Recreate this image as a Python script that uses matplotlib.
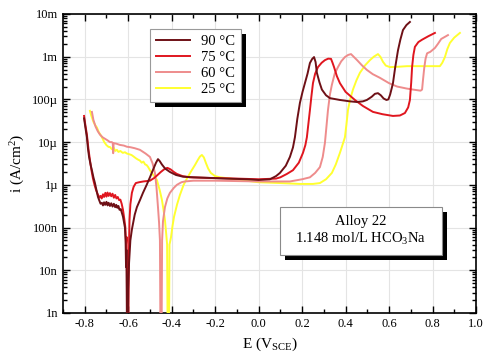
import matplotlib
matplotlib.use("Agg")
import matplotlib.pyplot as plt
import matplotlib.patheffects as pe
from matplotlib.patches import Rectangle
from matplotlib.ticker import MultipleLocator, LogLocator, NullFormatter

plt.rcParams['font.family'] = ['Liberation Serif', 'DejaVu Serif']
plt.rcParams['mathtext.fontset'] = 'custom'
plt.rcParams['mathtext.rm'] = 'Liberation Serif'
plt.rcParams['mathtext.default'] = 'regular'

# polarization curves, potential E (V vs SCE) and current density i (A/cm2)
E_90 = [-0.803, -0.795, -0.790, -0.785, -0.780, -0.772, -0.767, -0.760, -0.753, -0.746,
        -0.739, -0.733, -0.727, -0.721, -0.716, -0.711, -0.706, -0.700, -0.695, -0.690,
        -0.684, -0.678, -0.672, -0.666, -0.660, -0.655, -0.650, -0.645, -0.640, -0.634,
        -0.629, -0.624, -0.619, -0.615, -0.612, -0.610, -0.608, -0.605, -0.602, -0.600,
        -0.596, -0.590, -0.583, -0.570, -0.560, -0.545, -0.532, -0.515, -0.500, -0.485,
        -0.472, -0.463, -0.455, -0.445, -0.430, -0.408, -0.380, -0.348, -0.300, -0.224,
        -0.150, -0.050, 0.000, 0.052, 0.080, 0.098, 0.125, 0.144, 0.158, 0.167,
        0.178, 0.190, 0.202, 0.213, 0.225, 0.236, 0.246, 0.255, 0.262, 0.268,
        0.280, 0.291, 0.310, 0.328, 0.374, 0.420, 0.452, 0.480, 0.498, 0.520,
        0.535, 0.549, 0.562, 0.575, 0.588, 0.597, 0.605, 0.612, 0.618, 0.628,
        0.641, 0.652, 0.664, 0.680, 0.696]
i_90 = [3.6e-5, 1.9e-5, 1.3e-5, 7e-6, 4.5e-6, 2.8e-6, 2.2e-6, 1.5e-6, 1.1e-6, 7.5e-7,
        5.2e-7, 4.3e-7, 3.6e-7, 3.8e-7, 3.3e-7, 3.9e-7, 3.4e-7, 4.0e-7, 3.3e-7, 3.8e-7,
        3.2e-7, 3.7e-7, 3.1e-7, 3.6e-7, 3.0e-7, 3.4e-7, 2.9e-7, 3.2e-7, 2.6e-7, 2.7e-7,
        2.2e-7, 1.8e-7, 1.3e-7, 1.0e-7, 5e-8, 1.2e-8, 3e-8, 1e-10, 1e-10, 3.5e-9,
        1.5e-8, 5e-8, 9e-8, 2e-7, 3e-7, 4.5e-7, 6.5e-7, 1.0e-6, 1.5e-6, 2.3e-6,
        3.3e-6, 4.0e-6, 3.6e-6, 3.0e-6, 2.4e-6, 2.0e-6, 1.7e-6, 1.55e-6, 1.5e-6, 1.45e-6,
        1.4e-6, 1.35e-6, 1.3e-6, 1.35e-6, 1.6e-6, 1.9e-6, 2.8e-6, 4.5e-6, 7.5e-6, 1.3e-5,
        3.5e-5, 8.3e-5, 1.5e-4, 2.4e-4, 4.0e-4, 7.1e-4, 8.8e-4, 9.8e-4, 7.5e-4, 4.2e-4,
        2.5e-4, 1.7e-4, 1.25e-4, 1.07e-4, 9.7e-5, 9.0e-5, 8.7e-5, 9.0e-5, 9.7e-5, 1.15e-4,
        1.35e-4, 1.4e-4, 1.25e-4, 1.05e-4, 9.7e-5, 1.0e-4, 1.3e-4, 1.8e-4, 2.4e-4, 5.5e-4,
        1.4e-3, 2.5e-3, 4.2e-3, 5.5e-3, 6.5e-3]

E_75 = [-0.803, -0.797, -0.790, -0.783, -0.776, -0.769, -0.762, -0.755, -0.748, -0.740,
        -0.733, -0.727, -0.722, -0.716, -0.711, -0.705, -0.700, -0.695, -0.690, -0.684,
        -0.678, -0.672, -0.666, -0.660, -0.654, -0.648, -0.642, -0.636, -0.630, -0.624,
        -0.618, -0.613, -0.610, -0.607, -0.604, -0.600, -0.597, -0.594, -0.590, -0.583,
        -0.575, -0.565, -0.550, -0.530, -0.500, -0.480, -0.465, -0.450, -0.435, -0.420,
        -0.405, -0.390, -0.376, -0.350, -0.316, -0.224, -0.100, 0.000, 0.080, 0.100,
        0.130, 0.158, 0.185, 0.204, 0.215, 0.222, 0.230, 0.236, 0.243, 0.250,
        0.260, 0.273, 0.290, 0.305, 0.320, 0.333, 0.340, 0.347, 0.360, 0.374,
        0.400, 0.443, 0.480, 0.526, 0.570, 0.618, 0.650, 0.673, 0.688, 0.696,
        0.702, 0.706, 0.712, 0.719, 0.735, 0.752, 0.780, 0.811]
i_75 = [4.1e-5, 2.5e-5, 1.5e-5, 7e-6, 3.8e-6, 2.2e-6, 1.4e-6, 1.0e-6, 7.6e-7, 6.0e-7,
        5.0e-7, 5.5e-7, 4.8e-7, 6.0e-7, 5.2e-7, 6.5e-7, 5.3e-7, 6.6e-7, 5.5e-7, 6.4e-7,
        5.4e-7, 6.2e-7, 5.0e-7, 5.8e-7, 4.8e-7, 5.2e-7, 4.4e-7, 4.5e-7, 3.6e-7, 2.6e-7,
        1.6e-7, 1.0e-7, 4e-8, 6e-8, 1e-10, 1e-10, 2e-8, 1.5e-7, 3.5e-7, 6.5e-7,
        9e-7, 1.1e-6, 1.15e-6, 1.2e-6, 1.25e-6, 1.45e-6, 1.7e-6, 2.0e-6, 2.3e-6, 2.5e-6,
        2.3e-6, 2.0e-6, 1.8e-6, 1.6e-6, 1.5e-6, 1.45e-6, 1.4e-6, 1.35e-6, 1.4e-6, 1.5e-6,
        1.8e-6, 2.2e-6, 3.3e-6, 5.6e-6, 8.5e-6, 1.3e-5, 3.0e-5, 5.6e-5, 1.2e-4, 2.4e-4,
        4.0e-4, 5.7e-4, 7.2e-4, 8.3e-4, 9.0e-4, 8.9e-4, 7.2e-4, 5.7e-4, 3.5e-4, 2.4e-4,
        1.5e-4, 9.7e-5, 7.0e-5, 5.1e-5, 4.5e-5, 4.1e-5, 4.2e-5, 4.8e-5, 6.5e-5, 9.7e-5,
        2.5e-4, 5.7e-4, 1.1e-3, 1.7e-3, 2.2e-3, 2.5e-3, 3.0e-3, 3.6e-3]

E_60 = [-0.767, -0.760, -0.750, -0.740, -0.730, -0.718, -0.707, -0.695, -0.684, -0.675,
        -0.671, -0.669, -0.667, -0.655, -0.638, -0.620, -0.606, -0.590, -0.570, -0.546,
        -0.520, -0.500, -0.488, -0.477, -0.470, -0.463, -0.458, -0.454, -0.451, -0.447,
        -0.444, -0.440, -0.431, -0.420, -0.408, -0.390, -0.376, -0.355, -0.339, -0.300,
        -0.200, 0.000, 0.144, 0.200, 0.236, 0.260, 0.282, 0.295, 0.305, 0.312,
        0.319, 0.328, 0.337, 0.350, 0.365, 0.380, 0.397, 0.412, 0.425, 0.437,
        0.453, 0.475, 0.498, 0.525, 0.558, 0.600, 0.637, 0.680, 0.710, 0.745,
        0.752, 0.756, 0.762, 0.768, 0.775, 0.790, 0.811, 0.825, 0.840, 0.871]
i_60 = [5.1e-5, 3.3e-5, 2.3e-5, 1.8e-5, 1.5e-5, 1.3e-5, 1.2e-5, 1.1e-5, 1.0e-5, 1.0e-5,
        9.5e-6, 5.5e-6, 9.5e-6, 9.2e-6, 8.6e-6, 8.3e-6, 7.8e-6, 7.6e-6, 7.2e-6, 6.6e-6,
        5.4e-6, 4.5e-6, 3.2e-6, 1.9e-6, 9e-7, 3.0e-7, 1.3e-7, 5e-8, 1e-10, 1e-10,
        5e-8, 1.4e-7, 3.0e-7, 4.8e-7, 6.5e-7, 8.5e-7, 1.0e-6, 1.15e-6, 1.2e-6, 1.25e-6,
        1.25e-6, 1.2e-6, 1.2e-6, 1.35e-6, 1.5e-6, 1.9e-6, 2.6e-6, 4.5e-6, 9.6e-6, 2.3e-5,
        5.6e-5, 1.3e-4, 2.2e-4, 4.0e-4, 5.7e-4, 7.8e-4, 9.8e-4, 1.1e-3, 1.15e-3, 1.0e-3,
        8.3e-4, 6.3e-4, 4.9e-4, 3.9e-4, 3.2e-4, 2.4e-4, 2.0e-4, 1.8e-4, 1.7e-4, 1.6e-4,
        1.7e-4, 2.8e-4, 5.5e-4, 9.0e-4, 1.2e-3, 1.3e-3, 1.6e-3, 2.0e-3, 2.6e-3, 3.2e-3]

E_25 = [-0.776, -0.770, -0.760, -0.752, -0.744, -0.735, -0.728, -0.721, -0.710, -0.700,
        -0.690, -0.684, -0.675, -0.667, -0.660, -0.652, -0.645, -0.636, -0.625, -0.615,
        -0.606, -0.595, -0.585, -0.575, -0.565, -0.555, -0.546, -0.538, -0.530, -0.522,
        -0.515, -0.508, -0.500, -0.485, -0.468, -0.455, -0.445, -0.437, -0.431, -0.425,
        -0.421, -0.418, -0.413, -0.410, -0.406, -0.403, -0.396, -0.389, -0.375, -0.362,
        -0.345, -0.330, -0.310, -0.293, -0.280, -0.270, -0.261, -0.252, -0.242, -0.232,
        -0.220, -0.200, -0.178, -0.130, -0.086, 0.000, 0.100, 0.190, 0.250, 0.282,
        0.310, 0.337, 0.355, 0.374, 0.390, 0.397, 0.404, 0.411, 0.420, 0.434,
        0.450, 0.466, 0.490, 0.512, 0.530, 0.549, 0.560, 0.572, 0.585, 0.604,
        0.640, 0.683, 0.760, 0.834, 0.845, 0.857, 0.868, 0.880, 0.900, 0.926]
i_25 = [5.4e-5, 4.2e-5, 3.0e-5, 2.5e-5, 2.2e-5, 1.7e-5, 1.5e-5, 1.3e-5, 1.0e-5, 8.5e-6,
        7.7e-6, 7.7e-6, 6.8e-6, 7.5e-6, 6.2e-6, 6.6e-6, 5.9e-6, 6.2e-6, 5.6e-6, 5.8e-6,
        5.4e-6, 5.2e-6, 5.0e-6, 4.6e-6, 4.2e-6, 3.9e-6, 3.7e-6, 3.3e-6, 3.5e-6, 3.0e-6,
        2.9e-6, 2.6e-6, 2.2e-6, 1.7e-6, 1.3e-6, 7.5e-7, 4.5e-7, 2.5e-7, 1.5e-7, 7e-8,
        4e-8, 1e-10, 1e-10, 4e-8, 5e-8, 6e-8, 1.1e-7, 1.8e-7, 3.5e-7, 5.8e-7,
        1.0e-6, 1.4e-6, 2.1e-6, 2.9e-6, 3.8e-6, 4.6e-6, 5.0e-6, 4.4e-6, 3.2e-6, 2.4e-6,
        1.9e-6, 1.6e-6, 1.5e-6, 1.4e-6, 1.3e-6, 1.15e-6, 1.1e-6, 1.05e-6, 1.05e-6, 1.1e-6,
        1.35e-6, 1.9e-6, 3.0e-6, 5.6e-6, 1.0e-5, 1.3e-5, 2.6e-5, 5.6e-5, 9.5e-5, 1.7e-4,
        2.8e-4, 4.2e-4, 6.3e-4, 8.3e-4, 1.0e-3, 1.15e-3, 1.0e-3, 7.6e-4, 6.2e-4, 5.7e-4,
        5.8e-4, 6.0e-4, 6.0e-4, 6.0e-4, 7.2e-4, 9.8e-4, 1.5e-3, 2.1e-3, 2.8e-3, 3.6e-3]

labels = ['90 °C', '75 °C', '60 °C', '25 °C']
colors = ['#6e1016', '#e0161f', '#ee8c8c', '#ffff30']

x_ticks = [-0.8, -0.6, -0.4, -0.2, 0.0, 0.2, 0.4, 0.6, 0.8, 1.0]
x_labels = ['-0.8', '-0.6', '-0.4', '-0.2', '0.0', '0.2', '0.4', '0.6', '0.8', '1.0']
y_ticks = [1e-9, 1e-8, 1e-7, 1e-6, 1e-5, 1e-4, 1e-3, 1e-2]
y_labels = ['1n', '10n', '100n', '1µ', '10µ', '100µ', '1m', '10m']

fig = plt.figure(figsize=(4.83, 3.6), dpi=100)
ax = fig.add_axes([0.1304, 0.1306, 0.8551, 0.8306])

curves = [(E_90, i_90), (E_75, i_75), (E_60, i_60), (E_25, i_25)]
handles = [None] * 4
for k in [3, 2, 1, 0]:
    E, i = curves[k]
    handles[k], = ax.plot(E, i, color=colors[k], lw=1.4, label=labels[k], zorder=3 + (3 - k))

ax.set_yscale('log')
ax.set_xlim(-0.9, 1.0)
ax.set_ylim(1e-9, 1e-2)

ax.set_xticks(x_ticks, labels=x_labels)
ax.xaxis.set_minor_locator(MultipleLocator(0.1))
ax.set_yticks(y_ticks, labels=y_labels)
ax.yaxis.set_minor_locator(LogLocator(base=10, subs=range(2, 10), numticks=20))
ax.yaxis.set_minor_formatter(NullFormatter())

ax.tick_params(which='both', direction='in', top=True, right=True, labelsize=9, width=1.0)
ax.tick_params(which='major', length=5)
ax.tick_params(which='minor', length=3)
ax.grid(True, which='major', color='#e4e4e4', lw=0.8, zorder=0)
for s in ax.spines.values():
    s.set_linewidth(1.2)

ax.set_xlabel('E (V$_{SCE}$)', fontsize=11)
ax.set_ylabel('i (A/cm$^2$)', fontsize=11)

shadow = [pe.SimplePatchShadow(offset=(3.5, -3.5), shadow_rgbFace='black', alpha=1.0), pe.Normal()]

leg = ax.legend(handles=handles, loc='upper left', bbox_to_anchor=(0.211, 0.950),
                borderaxespad=0, fontsize=10.5, handlelength=2.3, labelspacing=0.2,
                fancybox=False, framealpha=1, edgecolor='#9a9a9a')
leg.get_frame().set_linewidth(0.8)
leg.get_frame().set_path_effects(shadow)

box = Rectangle((0.525, 0.194), 0.393, 0.161, transform=ax.transAxes,
                facecolor='white', edgecolor='#8a8a8a', lw=0.8, zorder=10)
box.set_path_effects(shadow)
ax.add_patch(box)
ax.text(0.7215, 0.274, 'Alloy 22\n1.148 mol/L HCO$_3$Na', transform=ax.transAxes,
        ha='center', va='center', multialignment='center', fontsize=10.5,
        linespacing=1.3, zorder=11)

fig.savefig('out.png', dpi=100)
